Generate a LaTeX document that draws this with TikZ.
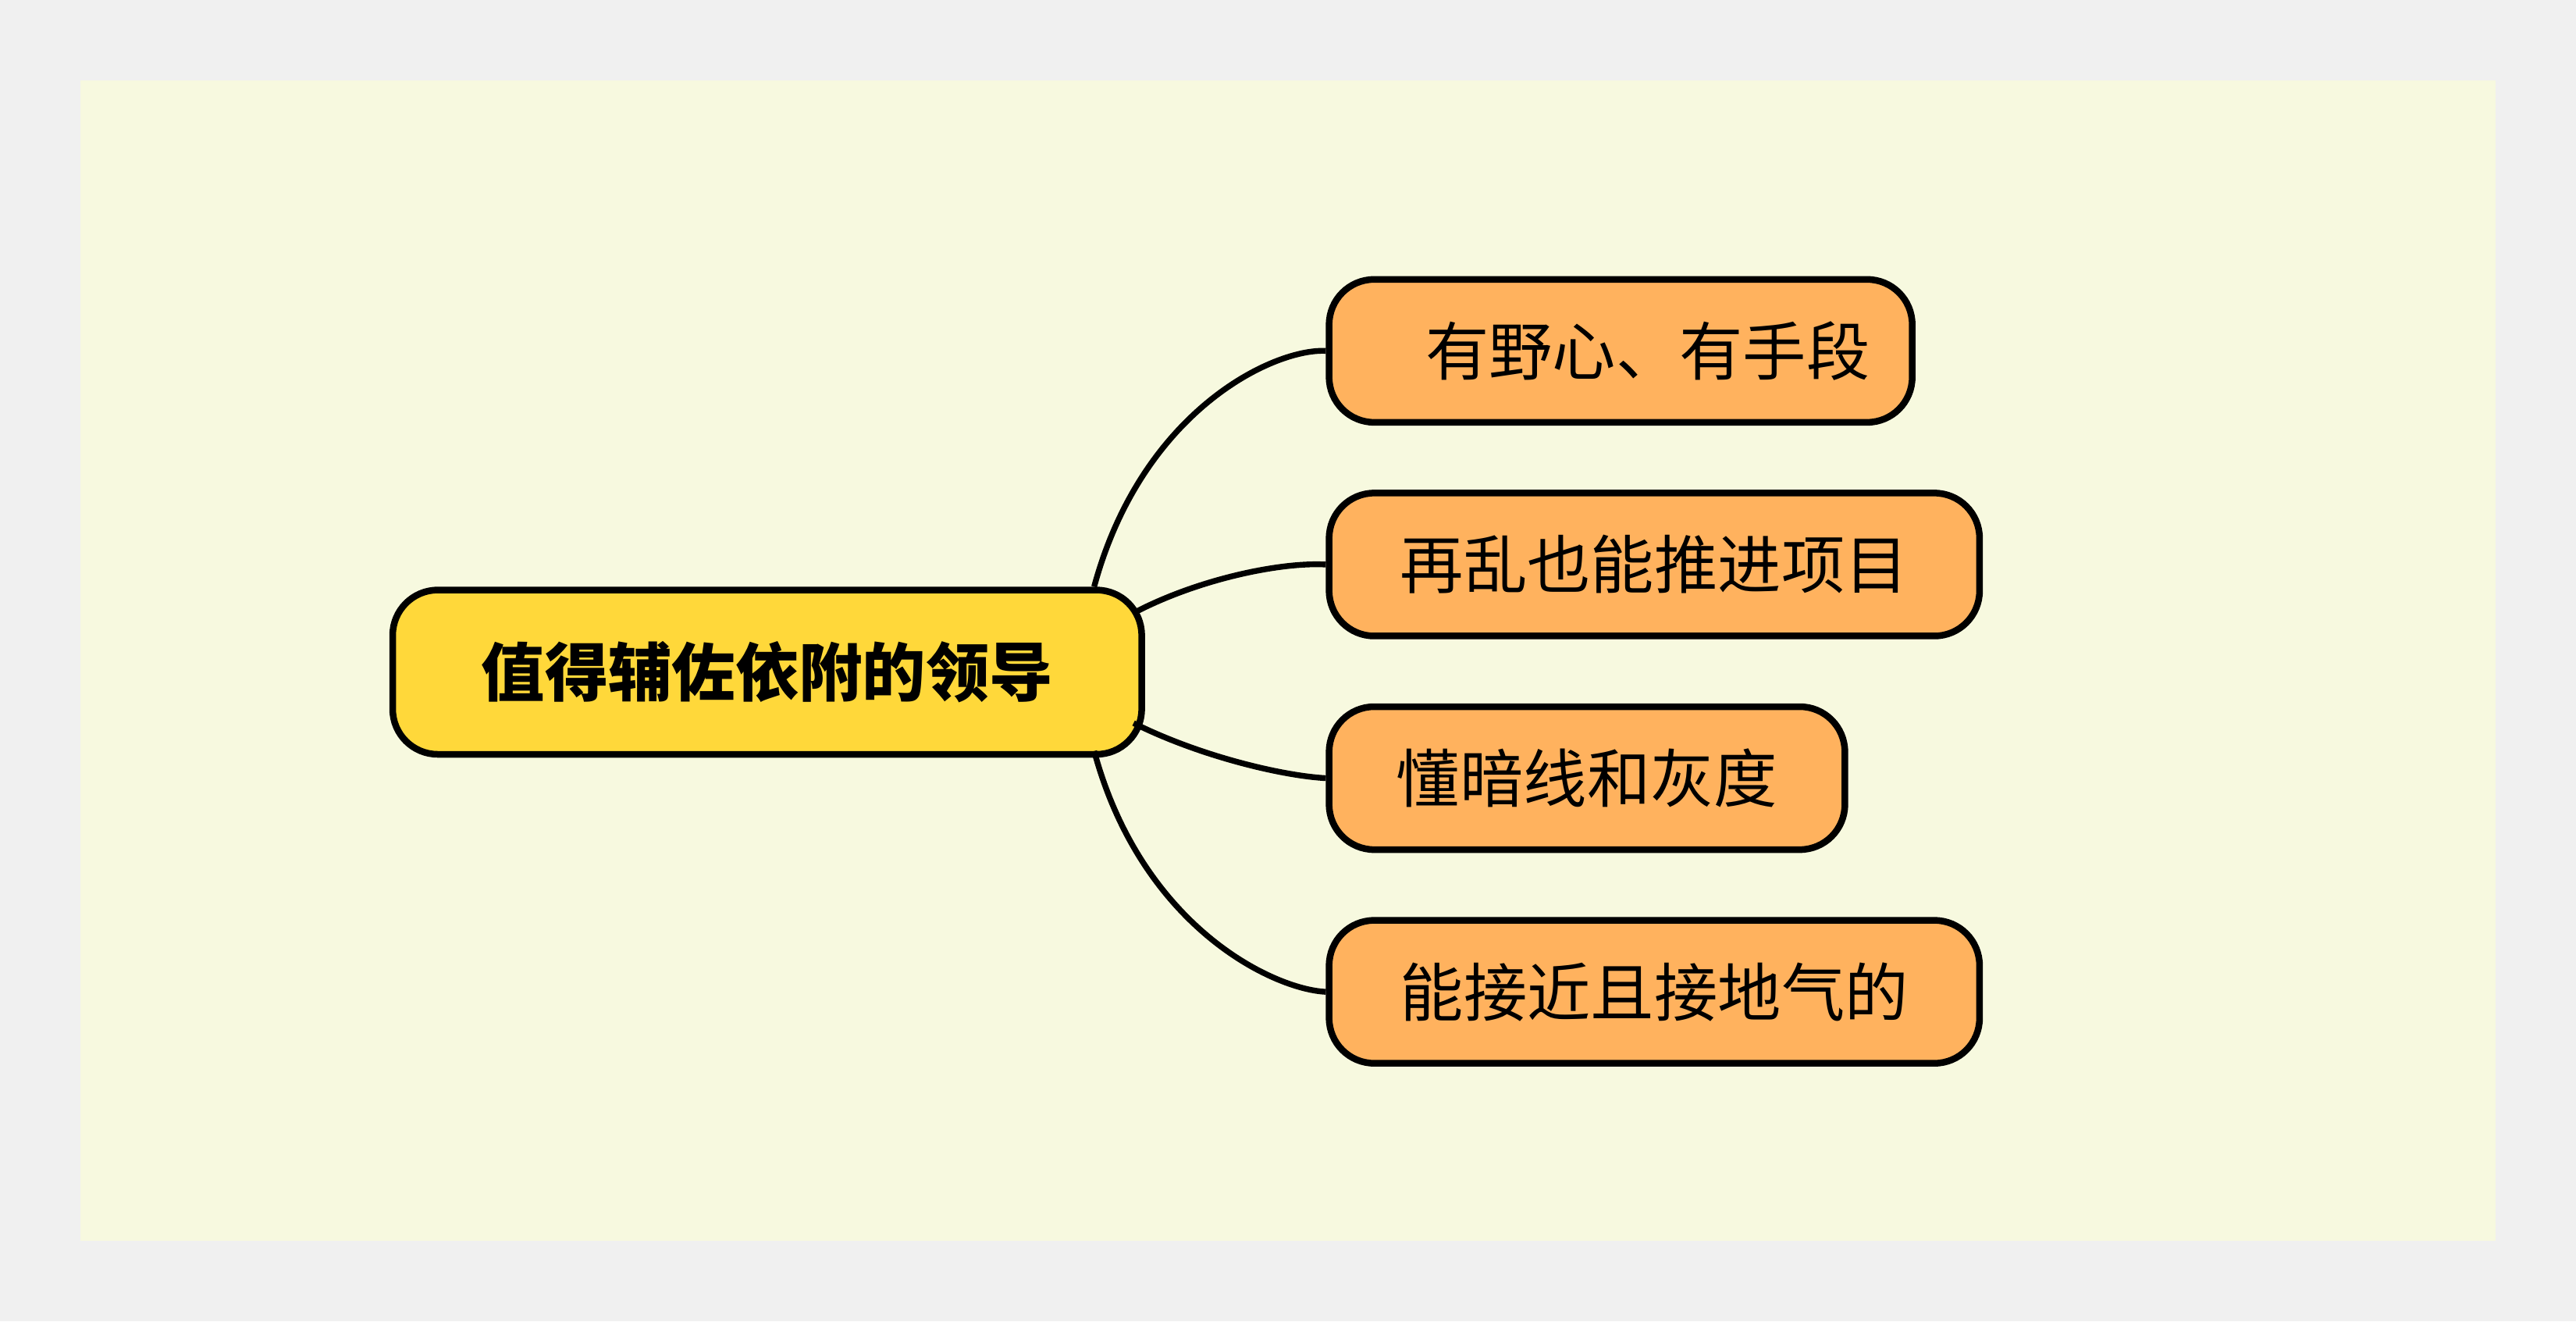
\documentclass[tikz,border=0pt]{standalone}
\usepackage{fontspec}
\newfontfamily\cjk{Noto Sans CJK SC}
\begin{document}
\begin{tikzpicture}[x=0.02cm,y=-0.02cm,
  box/.style={draw=black,line width=2.3pt,rounded corners=0.55cm,inner sep=0pt,font=\cjk\fontsize{22}{26}\selectfont,anchor=north west},
  leaf/.style={box,fill=leaffill,align=left,text width=#1},
  link/.style={line width=2pt}]
\definecolor{bgout}{HTML}{F0F0F0}
\definecolor{bgin}{HTML}{F7F9DF}
\definecolor{rootfill}{HTML}{FFD83A}
\definecolor{leaffill}{HTML}{FFB25E}
\fill[bgout] (0,0) rectangle (1568,804);
\useasboundingbox (0,0) rectangle (1568,804);
\fill[bgin] (49,49) rectangle (1519,755);
\node[box,fill=rootfill,minimum width=9.12cm,minimum height=2cm,font=\cjk\bfseries\fontsize{22}{26}\selectfont] (root) at (237,357) {值得辅佐依附的领导};
\node[box,fill=leaffill,minimum width=7.1cm,minimum height=1.74cm] (a) at (807,168) {\hspace*{0.66cm}有野心、有手段\hfill};
\node[box,fill=leaffill,minimum width=7.92cm,minimum height=1.74cm] (b) at (807,298) {再乱也能推进项目};
\node[box,fill=leaffill,minimum width=6.28cm,minimum height=1.74cm] (c) at (807,428) {懂暗线和灰度};
\node[box,fill=leaffill,minimum width=7.92cm,minimum height=1.74cm] (d) at (807,558) {能接近且接地气的};
\coordinate (r1) at (666,357);
\coordinate (r2) at (690,373);
\coordinate (r3) at (690,440);
\coordinate (r4) at (666,457);
\draw[link] (r1) .. controls (695,250) and (775,212) .. (a.west);
\draw[link] (r2) .. controls (730,352) and (780,342) .. (b.west);
\draw[link] (r3) .. controls (730,460) and (780,472) .. (c.west);
\draw[link] (r4) .. controls (695,564) and (775,602) .. (d.west);
\end{tikzpicture}
\end{document}
